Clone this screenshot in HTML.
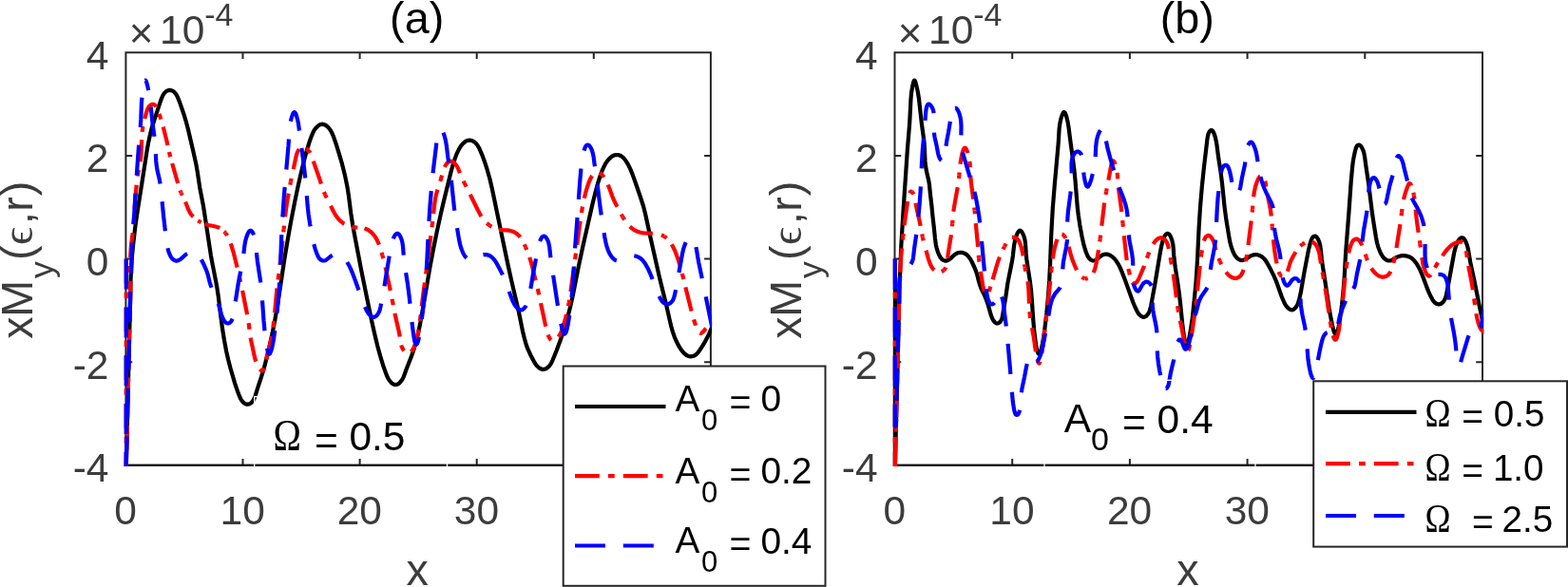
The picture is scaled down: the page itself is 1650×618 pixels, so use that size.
<!DOCTYPE html>
<html lang="en"><head><meta charset="utf-8"><title>Figure</title>
<style>html,body{margin:0;padding:0;background:#fff;}body{width:1650px;height:618px;overflow:hidden;}svg{display:block;}text{font-family:'Liberation Sans','DejaVu Sans',sans-serif;}.sym{font-family:'Liberation Serif','DejaVu Serif',serif;}</style></head><body>
<svg width="1650" height="618" viewBox="0 0 1650 618">
<rect width="1650" height="618" fill="#fff"/>
<defs>
<clipPath id="clipa"><rect x="130.00" y="55.30" width="619.10" height="435.60"/></clipPath>
<clipPath id="clipb"><rect x="939.10" y="55.30" width="622.10" height="435.60"/></clipPath>
</defs>
<g stroke="#262626" stroke-width="2" fill="none">
<rect x="132.40" y="55.30" width="615.50" height="434.50"/>
<path d="M255.50 489.80V483.00 M255.50 55.30V62.10 M378.60 489.80V483.00 M378.60 55.30V62.10 M501.70 489.80V483.00 M501.70 55.30V62.10 M624.80 489.80V483.00 M624.80 55.30V62.10 M132.40 381.18H139.20 M747.90 381.18H741.10 M132.40 272.55H139.20 M747.90 272.55H741.10 M132.40 163.93H139.20 M747.90 163.93H741.10"/>
<path d="M131.40 489.80H748.90" stroke="#0a0a0a"/>
</g>
<g fill="#3c3c3c" font-size="42.50">
<text x="132.10" y="551.8" text-anchor="middle">0</text>
<text x="255.20" y="551.8" text-anchor="middle">10</text>
<text x="378.30" y="551.8" text-anchor="middle">20</text>
<text x="501.40" y="551.8" text-anchor="middle">30</text>
<text x="624.50" y="551.8" text-anchor="middle">40</text>
<text x="747.60" y="551.8" text-anchor="middle">50</text>
<text x="114.50" y="507.30" text-anchor="end">-4</text>
<text x="114.50" y="398.68" text-anchor="end">-2</text>
<text x="114.50" y="290.05" text-anchor="end">0</text>
<text x="114.50" y="181.43" text-anchor="end">2</text>
<text x="114.50" y="72.80" text-anchor="end">4</text>
<text><tspan x="135.66" y="50.40" font-size="44.00">×</tspan><tspan x="168.03" y="46.40" font-size="42.50">10</tspan><tspan x="215.14" y="27.30" font-size="34.00">-4</tspan></text>
<text x="439.25" y="615.9" text-anchor="middle" font-size="46.75">x</text>
<text transform="translate(34.35 356.20) rotate(-90)"><tspan x="-0.47" y="0.00" font-size="46.75">x</tspan><tspan x="22.46" y="0.00" font-size="46.75">M</tspan><tspan x="63.30" y="22.00" font-size="35.50">y</tspan><tspan x="82.19" y="0.00" font-size="46.75">(</tspan><tspan x="98.20" y="0.00" font-size="46.75" class="sym">ϵ</tspan><tspan x="120.26" y="0.00" font-size="46.75">,</tspan><tspan x="133.50" y="0.00" font-size="46.75">r</tspan><tspan x="150.00" y="0.00" font-size="46.75">)</tspan></text>
</g>
<text x="438.65" y="35" text-anchor="middle" font-size="46.75" fill="#000">(a)</text>
<g clip-path="url(#clipa)" fill="none" stroke-width="4.2" stroke-linejoin="round">
<path stroke="#000" d="M132.1,520 137.6,293.1 137.9,284.1 138.4,276.1 139,269.1 140.1,257.7 142.3,238.8 144.8,221.5 149.4,192.3 154.7,158.2 156.1,150.4 157.7,143 159.2,136.7 161,130.5 165.6,116.7 168.2,108.6 169.9,103.8 171.4,100.5 172.1,99.2 173,98 173.7,97.3 174.8,96.3 176.1,95.5 177,95.2 178.4,94.9 179.3,94.9 180.7,95.3 182,95.9 183.2,96.8 184.2,97.9 185.2,99.1 186.2,100.8 187.5,103.7 189,107.4 193.1,119.2 195.6,127.3 197.8,135.6 203.5,159.9 206.4,173.1 207.7,180.5 210.3,197.8 213.9,216.4 216.5,233.2 221.9,268.8 223.4,277.2 227.4,297.3 228.6,304.2 229.7,311.6 232.2,332 234.1,346.4 236,358.2 238.2,370 240.2,378.8 242.6,388 247.1,403.3 250.3,412.8 252.2,417.7 253.3,420 254.1,421.3 255,422.5 256,423.6 257.2,424.6 258.4,425.3 259.7,425.7 260.6,425.7 262,425.5 263.2,424.9 264.4,424 265.4,423 266.3,421.8 267.3,420.1 268.5,417.2 271.1,408.7 275,396.9 278.4,385.4 281.1,374.7 283.8,363.5 286.5,351.3 289.2,337.6 292.5,318.4 299.4,272.4 303.2,249.7 306.3,232.5 310.2,212.3 313.7,195.6 316.6,182.9 320,168.9 322.8,158.4 325.8,148.8 328.3,142.1 329.3,139.7 330.2,137.9 331.3,136.2 332.6,134.6 334,133.1 335.6,131.9 336.9,131.2 338.2,130.8 339.6,130.7 340.9,131 342.2,131.6 343.5,132.4 345.1,133.8 346.5,135.4 347.7,137.1 349,139.3 350.8,143.4 353.5,151.1 356.6,161.1 359.7,171.6 363,184.7 364.1,190.1 365.5,197 366.9,205.9 369.3,224.7 371.2,237.1 373,246.9 380.5,286.2 385.9,312.7 391.4,339.1 394.6,353.3 397.2,364 400.1,374.6 403.4,385.5 406.5,394.1 408.1,397.9 409.7,400.5 410.7,401.7 411.7,402.8 412.9,403.8 413.7,404.3 415,404.9 416.3,405 417.2,404.9 418.5,404.5 420.1,403.4 421.2,402.3 422.5,400.6 423.4,399.4 424.6,397.1 425.3,395.2 428.1,387.6 433,375.1 435.7,367 437.4,361.3 439.3,354 440.6,348.2 442.1,340.8 444.4,328.4 452.5,281 456.2,261.4 459.7,244.2 463.4,227.1 466.3,214.5 470.1,198.9 474.4,181.4 476.7,173.2 478.7,167.1 480.4,162.4 482.8,157.4 484.1,155.2 485.2,153.5 486.5,151.9 487.5,150.8 488.7,149.8 489.9,148.9 491.3,148.2 492.7,147.8 494.1,147.6 495,147.7 496.4,148 497.8,148.6 499.1,149.3 500.2,150.3 501.3,151.4 502.5,153 504.5,156.6 507.1,162.6 509.6,169.2 512.4,177.7 515.4,188.3 518,199.5 534.6,279.3 538.2,295.4 545.7,327.5 550,348.7 551.8,356 553.1,360.8 554.5,365.1 556.2,369.2 558.5,374.2 561.6,380 563.4,383.1 565.3,385.5 567.2,387.2 568.4,388 569.8,388.6 571.1,388.9 572.5,388.8 574.4,388.2 575.6,387.5 577.2,386.2 578.2,385.1 579.9,382.6 581.5,379.3 585.5,369.5 589.3,359.2 592.4,350.3 595.5,340.2 597.6,333 600.3,322.3 602.7,311.6 608.7,281.1 613.3,259.6 623.6,214.3 626.7,201.7 629.4,192 631.5,185.4 633.4,180.2 635.7,175.2 637.6,171.6 639,169.6 640.3,168 642.5,165.8 643.6,164.9 644.9,164.1 646.3,163.5 647.2,163.2 649.2,163 650.6,163.1 652.5,163.7 653.8,164.4 655.4,165.6 656.8,167 658.4,169 659.5,170.8 661,173.4 662.6,176.5 664,179.7 665.5,183.4 667.9,190 674.1,208 677,217 679.1,225.2 684.4,249.7 694.3,293.6 701.3,321.7 704.8,337.4 706.2,343.3 708,349.6 709.8,354.8 712,359.8 714.5,364.7 716.7,368.1 719,370.9 720.8,372.7 721.9,373.6 723.2,374.4 724.1,374.8 725.5,375.2 727,375.3 727.9,375.2 729.8,374.8 731.1,374.1 732,373.6 733.8,372 735.7,369.6 739.6,363.6 741.9,359.7 744,355.8 746.2,351.3 751.8,338.4"/>
<path stroke="#f00" stroke-dasharray="25.79 9.20 6.70 9.10" stroke-dashoffset="0.00" d="M132.8,272.6 132.7,525.7 132.1,519.5 136.2,351.6 137.2,314.6 137.3,303.1 137,282 137,276 137.2,269.5 137.6,263 137.9,259.1 139.6,245.7 140.4,238.2 142.4,208.8 143.9,192.3 144.9,184.4 147.7,170.2"/>
<path stroke="#f00" stroke-dasharray="23.12 8.25 6.00 8.16" stroke-dashoffset="0.00" d="M147.7,170.2 148.1,166.7 148.5,162.2 149.3,142.7 149.8,137.7 150.3,133.8 151.5,127.9 153.6,120.1 155,115.5 155.7,114 156.4,112.7 157.3,111.6 158.3,110.7 159.4,110 160.6,109.8 161.7,109.9 162.4,110.3 163.1,110.8 164,111.8 165.3,114.1 166.6,117.3 169.5,126 171.7,133.5"/>
<path stroke="#f00" stroke-dasharray="20.13 7.18 5.23 7.10" stroke-dashoffset="0.00" d="M171.7,133.5 175.4,148.2 178.3,161.4 181.2,172"/>
<path stroke="#f00" stroke-dasharray="21.87 7.80 5.68 7.71" stroke-dashoffset="0.00" d="M181.2,172 187.9,195.6 189.1,199.4 190.5,203.1"/>
<path stroke="#f00" stroke-dasharray="21.75 7.75 5.65 7.67" stroke-dashoffset="32.32" d="M190.5,203.1 195.1,212.5"/>
<path stroke="#f00" stroke-dasharray="17.85 6.37 4.64 6.30" stroke-dashoffset="0.00" d="M195.1,212.5 198.6,221.4 199.8,223.7 200.8,225.3 202.8,227.6 205.3,229.9 207.7,231.8 210.2,233.4"/>
<path stroke="#f00" stroke-dasharray="12.43 4.43 3.23 4.38" stroke-dashoffset="18.47" d="M210.2,233.4 213.4,235 215.7,235.9"/>
<path stroke="#f00" stroke-dasharray="16.18 5.77 4.20 5.71" stroke-dashoffset="0.00" d="M215.7,235.9 219.5,237 226.9,238.5 229.8,239.4 232,240.6 234,242 235.9,243.7 237.2,245.2"/>
<path stroke="#f00" stroke-dasharray="26.06 9.29 6.77 9.19" stroke-dashoffset="38.74" d="M237.2,245.2 238.7,247.3 240.2,249.9 241.6,253.1 242.8,256.4"/>
<path stroke="#f00" stroke-dasharray="25.92 9.24 6.73 9.14" stroke-dashoffset="0.00" d="M242.8,256.4 245.5,265.1 248.3,276.2 251.8,290.8 255.1,305.9"/>
<path stroke="#f00" stroke-dasharray="25.63 9.14 6.65 9.04" stroke-dashoffset="0.00" d="M255.1,305.9 259.3,327 260.8,334.9 261.9,341.8 263.3,353.2 264.1,358.1 268.5,378.2 269.2,380.6 270.4,383.5 271.7,386 272.9,387.8 274.2,389.3 274.8,389.8 275.4,390.1 276.3,390.2 276.8,389.9 277.2,389.4 277.8,388.3 278.6,385.9 280.9,375.2 284.5,361.1 285.9,354.7 287,348.1 288.4,336.2 291.2,306.1 295.6,270.4 296.8,259.5 298.6,241.1"/>
<path stroke="#f00" stroke-dasharray="26.92 9.60 6.99 9.50" stroke-dashoffset="40.02" d="M298.6,241.1 300,228.2"/>
<path stroke="#f00" stroke-dasharray="24.98 8.91 6.49 8.81" stroke-dashoffset="0.00" d="M300,228.2 301.1,219.2 302.4,210.7 304.1,201.3 305.9,191.5"/>
<path stroke="#f00" stroke-dasharray="28.46 10.15 7.39 10.04" stroke-dashoffset="42.30" d="M305.9,191.5 308.7,178.1"/>
<path stroke="#f00" stroke-dasharray="21.94 7.82 5.70 7.74" stroke-dashoffset="0.00" d="M308.7,178.1 311.9,163.3 312.9,160.4 313.5,159.1 314.3,157.9 315.3,156.9 316.4,156.1 317.6,155.7 318.5,155.6 319.9,155.8 321.3,156.3 322.7,157 324.3,158.3"/>
<path stroke="#f00" stroke-dasharray="26.53 9.46 6.89 9.36" stroke-dashoffset="39.43" d="M324.3,158.3 326,160.2 327.3,162.4 328.6,165.7 329.8,169.7"/>
<path stroke="#f00" stroke-dasharray="25.24 9.00 6.56 8.90" stroke-dashoffset="0.00" d="M329.8,169.7 331.4,174.5 335.9,187.2 339.5,198.6 340.8,201.9 342.2,205.1"/>
<path stroke="#f00" stroke-dasharray="26.96 9.61 7.00 9.51" stroke-dashoffset="40.08" d="M342.2,205.1 348,216.7"/>
<path stroke="#f00" stroke-dasharray="24.28 8.66 6.31 8.56" stroke-dashoffset="0.00" d="M348,216.7 351.1,223 353.7,227.3 356.1,230.5 358.6,233 360.1,234.2 361.8,235.4 365.4,237.2 369.1,238.5 371.1,239 373.6,239.4"/>
<path stroke="#f00" stroke-dasharray="20.75 7.40 5.39 7.32" stroke-dashoffset="30.84" d="M373.6,239.4 380.1,239.7 382.1,240 383.5,240.4"/>
<path stroke="#f00" stroke-dasharray="23.97 8.55 6.22 8.45" stroke-dashoffset="0.00" d="M383.5,240.4 386.3,241.5 387.6,242.2 389.2,243.4 390.4,244.3 392.2,246.1 393.2,247.2 394.7,249.2 396.5,252.2 398.4,256.3 400.1,261.1 402.4,268.8"/>
<path stroke="#f00" stroke-dasharray="26.91 9.60 6.99 9.49" stroke-dashoffset="40.01" d="M402.4,268.8 404,274.5 405.6,281.4"/>
<path stroke="#f00" stroke-dasharray="25.15 8.97 6.53 8.87" stroke-dashoffset="0.00" d="M405.6,281.4 412,311.7 415.4,329.9"/>
<path stroke="#f00" stroke-dasharray="25.24 9.00 6.55 8.90" stroke-dashoffset="0.00" d="M415.4,329.9 419.7,348.7 420.5,352.8 421.5,360 422,362.5 422.7,365 424,367.7 425.1,369.4 426.2,370.5 427,371.1 427.8,371.6 428.6,371.9 429.4,372 430.2,371.9 431,371.5 431.7,371.1 433.1,369.7 434.7,367.5 436.1,364.7 437.4,361.3 438.8,355.9 440,350 441.4,341.6 442.6,332.7 444.9,312.9 448.7,284.6 454.9,236"/>
<path stroke="#f00" stroke-dasharray="22.84 8.14 5.93 8.06" stroke-dashoffset="33.95" d="M454.9,236 456.1,225.1"/>
<path stroke="#f00" stroke-dasharray="25.82 9.21 6.70 9.11" stroke-dashoffset="0.00" d="M456.1,225.1 457.5,213.1 458.2,208.7 459,204.8 460.2,200.4 463.4,190.4 466.4,179.8 467.2,177.4 468.3,175 469.4,173.2 470.3,172 471.3,171 472.5,170.2 473.8,169.8 475.1,169.8 475.9,170.1 476.7,170.5 478.3,171.7 479.9,173.7 481.3,175.9 482.4,178.2 485.1,185.3 486.6,188.5 490.9,197 502.9,221.2 505.9,226.9 508.1,230.3 510,232.6 512.1,234.8 514.8,237"/>
<path stroke="#f00" stroke-dasharray="23.89 8.52 6.20 8.43" stroke-dashoffset="35.51" d="M514.8,237 517.3,238.7 519.9,240.2 522.7,241.3 525.1,241.9"/>
<path stroke="#f00" stroke-dasharray="24.63 8.78 6.40 8.69" stroke-dashoffset="0.00" d="M525.1,241.9 528.1,242.2 533.6,242.4 536.1,242.7 538.1,243.2 540,243.8 541.7,244.7 543,245.5 544.6,246.7 545.7,247.7 547,249.2 548.5,251.3 550.6,254.7 551.7,256.9 553.1,260.2"/>
<path stroke="#f00" stroke-dasharray="23.87 8.51 6.20 8.42" stroke-dashoffset="35.49" d="M553.1,260.2 555.3,265.8 557.2,270.9"/>
<path stroke="#f00" stroke-dasharray="25.21 8.99 6.55 8.89" stroke-dashoffset="0.00" d="M557.2,270.9 558.3,274.3 559.8,279.6 566.1,305.3 574.2,343.4 575.9,349.9 577.4,354.2 578.4,356.1 579.2,357.2 580.2,358 580.9,358.3 582,358.3 583.3,358 584.1,357.6 585.4,356.7 587.3,354.9 588.9,352.8 590.3,350.1 592,345.8 593.6,340.4 595.1,335.1 596.6,328.8 598.7,318.6 600.5,306.7 610.9,230.9 612.8,218.5 614.6,209.3 616.7,201.1 618.1,196.7 619.5,192.4 620.7,189.5 621.8,187.2 622.9,185.5 624.5,183.6 626.1,182.5 627,182.1 627.9,181.8 628.8,181.7 629.8,181.8 630.6,182 631.5,182.4 633,183.5 634.4,185 636.7,188.5 638.9,192.6 640.5,196.3 644.3,206.6 646,210.7 649.4,217.4 655.3,228.5"/>
<path stroke="#f00" stroke-dasharray="25.99 9.27 6.75 9.17" stroke-dashoffset="38.63" d="M655.3,228.5 656.9,231 658.8,233.9 660.4,235.9 662.8,238.5"/>
<path stroke="#f00" stroke-dasharray="25.97 9.26 6.74 9.16" stroke-dashoffset="0.00" d="M662.8,238.5 665.4,240.8 667.5,242.2 670.2,243.5 673,244.5 675.5,245.1 677.9,245.4 687.5,245.8 691.5,246.2 693.5,246.7 695.4,247.2 697.2,248 699,248.9"/>
<path stroke="#f00" stroke-dasharray="23.88 8.52 6.20 8.42" stroke-dashoffset="35.50" d="M699,248.9 701,250.4 703.2,252.4 705.2,254.7 706.8,257.2"/>
<path stroke="#f00" stroke-dasharray="24.16 8.62 6.27 8.52" stroke-dashoffset="0.00" d="M706.8,257.2 708.7,260.8 710.4,264.4 712.3,269.6 713.8,273.9 715.7,280.1 717.2,285.4 721.4,302.4"/>
<path stroke="#f00" stroke-dasharray="25.80 9.20 6.70 9.10" stroke-dashoffset="0.00" d="M721.4,302.4 727.3,326.2 729.5,334.6 730.9,339 732.3,343.3 734,347.6 735,349.3 735.8,350.2 736.7,350.7 737.6,350.8 738.6,350.3 740,349.2 742.9,345.6"/>
<path stroke="#00f" stroke-dasharray="32.00 18.80" stroke-dashoffset="0.00" d="M132.8,272.6 132.7,508.9 132.3,508.5 136.5,339.1"/>
<path stroke="#00f" stroke-dasharray="32.13 18.87" stroke-dashoffset="0.00" d="M136.5,339.1 137.1,311.1 138.1,288.1"/>
<path stroke="#00f" stroke-dasharray="32.76 19.24" stroke-dashoffset="0.00" d="M138.1,288.1 139.2,260.1 140.5,236.1"/>
<path stroke="#00f" stroke-dasharray="32.45 19.06" stroke-dashoffset="0.00" d="M140.5,236.1 143.8,184.7"/>
<path stroke="#00f" stroke-dasharray="32.18 18.91" stroke-dashoffset="0.00" d="M143.8,184.7 145.8,156.3 147.7,133.8"/>
<path stroke="#00f" stroke-dasharray="31.14 18.30" stroke-dashoffset="0.00" d="M147.7,133.8 148.3,125.4 148.9,108.8 149.6,100.8 150.1,96.1 151.1,90.7 152,86.5 152.4,85.3 152.7,84.8"/>
<path stroke="#00f" stroke-dasharray="11.53 6.77" stroke-dashoffset="0.00" d="M152.7,84.8 153,84.6 153.3,84.8 153.6,85.2 154.1,86.3 155.1,89.9 156.2,95.1"/>
<path stroke="#00f" stroke-dasharray="29.88 17.55" stroke-dashoffset="29.88" d="M156.2,95.1 157.6,103.1 158.7,112.5"/>
<path stroke="#00f" stroke-dasharray="31.51 18.51" stroke-dashoffset="0.00" d="M158.7,112.5 160.7,131.4 163.2,148.7 163.7,155.7 163.9,162.2"/>
<path stroke="#00f" stroke-dasharray="31.81 18.69" stroke-dashoffset="0.00" d="M163.9,162.2 164.2,169.2 164.9,175.7 165.8,180.6 167.8,188.9 168.4,192.3 170.6,212.2"/>
<path stroke="#00f" stroke-dasharray="31.16 18.31" stroke-dashoffset="0.00" d="M170.6,212.2 172.1,227.6 173.6,240.5 174.6,251 175.3,255.9 176,259.8 177.2,264.2 178.5,267.7 179.4,269.6 180.1,270.9 181.7,272.8 183.2,273.9 184.1,274.3 184.9,274.6 185.8,274.6 186.7,274.5 188.1,274 189.8,273 191.4,271.7 194.8,268.5 196.8,267.1 198.2,266.4 199.6,266 201.1,265.8 202.1,265.8 203.5,266 204.9,266.5 206.3,267.1 207.5,267.9 208.7,268.9 210,270.4 211.9,273.3"/>
<path stroke="#00f" stroke-dasharray="31.37 18.43" stroke-dashoffset="0.00" d="M211.9,273.3 215.1,279.8 217.5,285.3 218.7,289.1 220.7,297.3 221.8,300.7 223.3,304.4 226.7,311.6 228.2,315.3 230.2,320.9 232.9,330.8 233.7,333.3 234.7,335.6 235.4,336.9 236.3,338.2 237,338.9 238,339.9 238.8,340.3 240,340.5 240.8,340.3 241.9,339.7 242.9,338.8 243.7,337.6 244.7,335.4 245.3,332.8 247.8,317.4"/>
<path stroke="#00f" stroke-dasharray="32.20 18.92" stroke-dashoffset="0.00" d="M247.8,317.4 250.9,297.4 254.4,279.7 255.7,272.3 256.3,267.9 257.2,260 257.7,256.5 258.2,254 258.9,251 260.4,246.8 261.3,244.9 262,243.7 262.8,242.9 263.4,242.7 264,242.8 264.8,243.4 265.6,244.4 266.4,245.8 267.8,249.1 268.4,251.1 268.9,253.6 269.4,257.7 269.9,265.9"/>
<path stroke="#00f" stroke-dasharray="32.01 18.81" stroke-dashoffset="0.00" d="M269.9,265.9 270.9,275.1 274.2,296.7 275.1,304.7 275.7,311.7 277.5,337.4 278.6,349 279.4,356.8 280.2,362.6 281.2,367.7 281.7,369.7 282.2,371.2 282.6,372.1 283.1,372.5 283.4,372.6 283.8,372.4 284.2,372 284.6,371.1 285.5,368.8 286.3,365.9 287.9,357.7 289.7,344.8 291.6,328.9 293.1,312.8 294.2,297.2 295.1,278.6"/>
<path stroke="#00f" stroke-dasharray="31.60 18.57" stroke-dashoffset="0.00" d="M295.1,278.6 296.1,251.1 297.3,229 298.8,207.3 301.3,178.5"/>
<path stroke="#00f" stroke-dasharray="32.11 18.86" stroke-dashoffset="0.00" d="M301.3,178.5 303.5,153.4 304.6,136 305.1,132 305.8,127.8"/>
<path stroke="#00f" stroke-dasharray="31.37 18.43" stroke-dashoffset="0.00" d="M305.8,127.8 306.5,125 307.4,122.1 308.1,120.1 308.9,118.6 309.6,118.1 310.2,118.2 310.8,119 311.4,120.1 312.1,122.2 312.7,124.5 313.4,127.2 314.1,130.9 317.4,155.9"/>
<path stroke="#00f" stroke-dasharray="31.84 18.70" stroke-dashoffset="0.00" d="M317.4,155.9 319.3,170.4 320.7,182.3 321.6,191.2 322.8,206.2"/>
<path stroke="#00f" stroke-dasharray="32.47 19.07" stroke-dashoffset="0.00" d="M322.8,206.2 323.6,216.1 324.7,226.1 326.2,236.1 328.3,248.2 329.8,255.4 331.6,261.8 333.5,267.4 334.2,268.9 335.1,270.8 336.3,272.4 337.7,273.6 339.3,274.4 340.1,274.5 341,274.5 342.3,274.2 343.5,273.5 348,269.8 350.2,268.5 351.6,267.9 353,267.6 354,267.6 355.4,267.8 356.8,268.2 358.1,268.9 359.4,269.7 360.7,270.6 362.9,272.8 363.8,274 365.3,276"/>
<path stroke="#00f" stroke-dasharray="31.97 18.78" stroke-dashoffset="0.00" d="M365.3,276 366.6,278.2 368,280.9 369.5,284.1 371,287.8 374,295.7 381.5,316.9 384.1,323.4 385.9,327.2 387.3,329.5 388.2,330.7 389.2,331.8 390.7,333 392,333.6 392.8,333.8 393.6,333.8 394.9,333.4 396,332.6 397,331.5 398.1,329.9 398.8,328.6 399.7,326.2 400.5,322.6 404.5,301.2"/>
<path stroke="#00f" stroke-dasharray="32.00 18.80" stroke-dashoffset="0.00" d="M404.5,301.2 409.8,268.9 411.1,262 412.1,257.3 413.1,253.5 414.3,250 415,248.7 415.7,247.5 416.6,246.6 417.2,246.1 418.2,245.8 418.8,245.9 419.7,246.6 420.2,247.2 421,248.5 421.9,250.4 422.6,252.3 423.3,254.8 423.8,257.8 424.1,260.4 424.7,268.6 425.4,275.2 427.1,287.1"/>
<path stroke="#00f" stroke-dasharray="32.93 19.35" stroke-dashoffset="0.00" d="M427.1,287.1 429.1,299.9 430.6,311.7 433.7,340.8 435.1,352.3 435.9,357 436.6,360.4 437.4,362.3 437.7,362.6 438.1,362.7 438.7,362.2 439.4,360.8 440,359.1 440.7,356.1 441.9,349.8 443.4,339.6 445.1,325.8 446.5,312.4 447.9,297 448.8,283.8"/>
<path stroke="#00f" stroke-dasharray="32.05 18.83" stroke-dashoffset="0.00" d="M448.8,283.8 449.5,271.2 450.8,243.8 451.6,229.7 452.5,216.5 454,198.1 455.9,179.3 458.6,157 459.8,146.1 460.2,143.3 460.7,141.3 461.4,139.5 462,138.4 463.1,137.3 464,137 464.3,137 464.8,137.2 465.6,138.1 466.5,139.8 467.6,142.9 468.5,146 469.1,149 469.8,153 471.4,165.8 474.5,186.1 475.4,194.6 477.9,218.4 479.1,228.4 481,240.2"/>
<path stroke="#00f" stroke-dasharray="33.47 19.67" stroke-dashoffset="0.00" d="M481,240.2 483.1,252.5 483.9,256.4 484.8,259.8 486,263.2 487.6,267 489.2,269.7 490.5,271.2 491.9,272.6 493.6,273.5 495,274 495.9,274.1 496.8,274.1 498.1,273.7 499.4,273.1 503.8,270.3 505.6,269.2 507.1,268.7 508.5,268.2"/>
<path stroke="#00f" stroke-dasharray="31.80 18.68" stroke-dashoffset="0.00" d="M508.5,268.2 509.9,268 511.4,268.1 512.9,268.3 514.7,269 516.1,269.6 517.6,270.8 519.1,272.2 520.6,274.1 522.3,276.7 524.8,281.3 528.1,287.6 530,291.6 532.6,297.9 535.7,306.9"/>
<path stroke="#00f" stroke-dasharray="31.57 18.54" stroke-dashoffset="0.00" d="M535.7,306.9 537.6,312.1 539.5,316.9 540.6,319.2 541.9,321.4 542.8,322.7 543.8,323.8 545.3,325.2 547,326.1 547.8,326.3 548.7,326.3 549.5,326.1 550.2,325.7 551.7,324.4 553.2,322.5 554.4,320.2 555.3,317.8 556.4,313.7 557.4,309.2 558.4,303.8"/>
<path stroke="#00f" stroke-dasharray="31.95 18.77" stroke-dashoffset="0.00" d="M558.4,303.8 561.1,287.6 564.9,267.7 566.3,260.8 567.7,255.4 568.6,252.8 569.7,250.5 570.2,249.8 571.1,249 572.1,248.6 572.8,248.7 573.5,248.9 574.4,249.8 575.2,250.9 576.2,252.8 576.8,254.2 577.4,256.1 578.2,260.1 579.8,274.9 582.1,289.7"/>
<path stroke="#00f" stroke-dasharray="32.53 19.11" stroke-dashoffset="0.00" d="M582.1,289.7 587.9,328.1 590,339.5 591.5,346.3 592.3,349 592.9,350.3 593.4,351.2 593.8,351.5 594.1,351.6 594.6,351.3 595.3,350.4 596.1,348.4 596.7,346.2 598,339.8 599.5,330 601,318.4 602.4,304.2 603.4,290.3 604.5,269.5 605.2,259.7 607.9,224.2 610.1,192.8 611.3,178.7 612.5,169.6 613.1,165.6 614.2,160.2 615,157.4 615.6,155.4 616.3,154.1 617,153.1 617.9,152.6 618.9,152.6 619.9,153.1 620.8,154.1 621.6,155.4 622.5,157.2 623.2,159.1 624,162.1 624.7,165.7 626,175.9 628.4,192.1 631.5,217.4 632.6,225.4 635.6,245.1"/>
<path stroke="#00f" stroke-dasharray="33.43 19.64" stroke-dashoffset="0.00" d="M635.6,245.1 636.4,250.1 637.5,255.4 638.5,259.3 639.6,262.7 641,266 642.5,268.7 644.3,271.2 646.1,272.9 647.3,273.7 648.6,274.2 650,274.5 650.9,274.5 651.7,274.3 653,273.8 657.5,271.1 658.9,270.4 660.3,269.9 662.3,269.4 663.8,269.2 665.3,269.1 667.3,269.3"/>
<path stroke="#00f" stroke-dasharray="32.91 19.33" stroke-dashoffset="0.00" d="M667.3,269.3 669.3,269.7 671.2,270.4 672.9,271.3 674.1,272.1 675.6,273.4 677,274.9 678.2,276.5 679.6,278.7 681.8,282.7 683.9,287.3 686,292.4 690.6,304.9 692.1,308.6 693.7,311.9"/>
<path stroke="#00f" stroke-dasharray="31.49 18.50" stroke-dashoffset="0.00" d="M693.7,311.9 695.1,314.8 696.6,317 698.3,318.8 699.9,319.8 701.7,320.3 702.6,320.3 703.5,320.1 704.3,319.8 705.1,319.3 706.2,318.4 706.9,317.6 707.8,316.4 708.5,315.1 709.2,313.2 709.8,311.2 711.3,304.1 714.4,287"/>
<path stroke="#00f" stroke-dasharray="32.79 19.26" stroke-dashoffset="0.00" d="M714.4,287 718.1,266.8 719.1,262.4 720,259.5 721.1,256.5 722.3,254 723.1,252.6 724.4,251.2 725,250.7 725.8,250.4 726.5,250.3 727.2,250.4 728.2,251 729.4,252.5 730.6,254.8 731.5,257.3 732.4,260.2"/>
<path stroke="#00f" stroke-dasharray="33.48 19.67" stroke-dashoffset="0.00" d="M732.4,260.2 733.2,264.2 734.3,271.2 735.4,277.1 739,294.2 742.7,312.4"/>
<path stroke="#00f" stroke-dasharray="32.00 18.80" stroke-dashoffset="0.00" d="M742.7,312.4 750.8,351.6"/>
</g>
<g stroke="#262626" stroke-width="2" fill="none">
<rect x="941.50" y="55.30" width="618.50" height="434.50"/>
<path d="M1065.20 489.80V483.00 M1065.20 55.30V62.10 M1188.90 489.80V483.00 M1188.90 55.30V62.10 M1312.60 489.80V483.00 M1312.60 55.30V62.10 M1436.30 489.80V483.00 M1436.30 55.30V62.10 M941.50 381.18H948.30 M1560.00 381.18H1553.20 M941.50 272.55H948.30 M1560.00 272.55H1553.20 M941.50 163.93H948.30 M1560.00 163.93H1553.20"/>
<path d="M940.50 489.80H1561.00" stroke="#0a0a0a"/>
</g>
<g fill="#3c3c3c" font-size="42.50">
<text x="941.20" y="551.8" text-anchor="middle">0</text>
<text x="1064.90" y="551.8" text-anchor="middle">10</text>
<text x="1188.60" y="551.8" text-anchor="middle">20</text>
<text x="1312.30" y="551.8" text-anchor="middle">30</text>
<text x="1436.00" y="551.8" text-anchor="middle">40</text>
<text x="1559.70" y="551.8" text-anchor="middle">50</text>
<text x="923.60" y="507.30" text-anchor="end">-4</text>
<text x="923.60" y="398.68" text-anchor="end">-2</text>
<text x="923.60" y="290.05" text-anchor="end">0</text>
<text x="923.60" y="181.43" text-anchor="end">2</text>
<text x="923.60" y="72.80" text-anchor="end">4</text>
<text><tspan x="944.76" y="50.40" font-size="44.00">×</tspan><tspan x="977.12" y="46.40" font-size="42.50">10</tspan><tspan x="1024.24" y="27.30" font-size="34.00">-4</tspan></text>
<text x="1249.85" y="615.9" text-anchor="middle" font-size="46.75">x</text>
<text transform="translate(843.45 356.20) rotate(-90)"><tspan x="-0.47" y="0.00" font-size="46.75">x</tspan><tspan x="22.46" y="0.00" font-size="46.75">M</tspan><tspan x="63.30" y="22.00" font-size="35.50">y</tspan><tspan x="82.19" y="0.00" font-size="46.75">(</tspan><tspan x="98.20" y="0.00" font-size="46.75" class="sym">ϵ</tspan><tspan x="120.26" y="0.00" font-size="46.75">,</tspan><tspan x="133.50" y="0.00" font-size="46.75">r</tspan><tspan x="150.00" y="0.00" font-size="46.75">)</tspan></text>
</g>
<text x="1249.25" y="35" text-anchor="middle" font-size="46.75" fill="#000">(b)</text>
<g clip-path="url(#clipb)" fill="none" stroke-width="4.2" stroke-linejoin="round">
<path stroke="#000" d="M941.9,272.6 941.8,520 941.1,520 945.3,354.6 946.1,313.6 948.3,259.1 950.4,224.2 953.9,171.8 954.8,158.3 957.2,129.3 958.4,105.4 959,98.2 960.1,91.3 961.2,86.5 961.8,85 962.2,84.6 962.7,84.9 963.3,86.3 964.4,90.4 965.9,97.1 967,104.1 967.7,110.5 969.9,130.4 972.4,148.7 972.9,155.7 973.5,169.7 974.1,175.2 975,180.6 977.3,190.3 977.9,193.8 979.1,205.7 980.5,217.6 981.4,227.1 982.7,238.5 983.9,250.4 984.4,254.4 984.9,257.9 985.7,261.3 986.7,264.7 988,268.1 989.5,270.9 991,272.8 992.1,273.7 993,274.1 993.8,274.4 994.7,274.6 995.6,274.6 996.5,274.4 998.3,273.6 1000.3,272.1 1003.7,268.9 1005.3,267.6 1007.1,266.6 1008.9,266 1010.4,265.8 1011.9,265.8 1012.8,266 1014.2,266.4 1015.6,267.1 1016.9,267.9 1018,268.8 1019,269.9 1020.8,272.3 1022.6,275.5 1025.2,281 1026.9,285.1 1028.3,289.4 1030.1,296.7 1031.1,300 1032.5,303.8 1036.2,311.4 1037.9,315.6 1040.1,322.1 1042.9,332.1 1044,335 1045.5,337.6 1046.1,338.4 1047.1,339.5 1047.9,340 1048.6,340.4 1049.4,340.5 1050.2,340.4 1051,340.1 1051.7,339.6 1052.7,338.6 1053.2,337.8 1054.3,335.6 1054.9,333 1058.3,312.8 1060.4,298.1 1065,275 1065.9,269.1 1067.1,258.3 1068.2,252.7 1069.6,248.1 1070.6,245.6 1071.4,244.2 1072.2,243.2 1073,242.7 1073.6,242.7 1074.4,243.2 1075,243.8 1075.8,245.1 1077.1,247.9 1078.1,250.8 1078.8,254.3 1079.2,258.9 1079.7,266.7 1080.3,272.8 1081.4,280.4 1083.8,295.5 1084.9,304.4 1085.6,312.4 1087.3,337.1 1088.1,346.7 1089.1,355.3 1090,362.3 1091,367.5 1091.5,369.5 1092.1,371.3 1092.5,372.1 1093,372.5 1093.4,372.5 1094,372.1 1094.8,370.4 1095.8,367.3 1096.9,362.1 1098.2,354.6 1099.2,347.7 1101.3,330 1103,311.9 1104.2,295.4 1105,279.4 1106.2,247.9 1106.9,234.9 1107.8,219.1 1109.9,193.2 1113.1,157.7 1113.8,149.3 1114.6,135.8 1115.4,129.7 1116.1,126.4 1116.8,123.6 1117.8,120.8 1118.6,119.1 1119.2,118.3 1119.8,118.1 1120.5,118.5 1121,119.5 1121.6,120.8 1122.3,123 1123.6,128.5 1124.6,134.6 1126,145.7 1129.1,168.6 1130.4,179 1131.5,189.9 1133.3,212.3 1133.8,218.3 1134.8,226.8 1136.3,236.8 1138.4,248.4 1140.3,257.1 1141.7,262 1142.7,265 1143.7,267.6 1144.8,270 1146.2,272.1 1147.2,273.1 1147.9,273.7 1149.5,274.4 1150.4,274.5 1151.3,274.5 1152.1,274.3 1153.3,273.7 1154.9,272.5 1157.8,270.1 1160,268.6 1161.4,268.1 1162.4,267.8 1163.3,267.6 1164.7,267.6 1166.6,268.1 1168.8,269.1 1170.9,270.7 1172.8,272.5 1174.7,274.8 1176.6,277.8 1178.2,280.9 1180.1,285 1183.4,293.4 1192.3,318.3 1194.3,323 1196.3,327.2 1197.4,329.1 1198.2,330.4 1199.2,331.5 1200.3,332.5 1201.5,333.2 1202.3,333.6 1203.6,333.8 1204.4,333.7 1205.6,333.1 1206.4,332.6 1207,331.9 1208,330.7 1208.7,329.5 1209.4,328.1 1209.9,326.7 1210.5,324.7 1211.2,321.6 1215.2,299.8 1221,265.1 1222.2,259 1223.5,253.6 1224.8,250 1225.7,248.3 1226.5,247.2 1227.3,246.3 1228.3,245.8 1228.9,245.8 1229.9,246.3 1230.4,246.8 1231.3,248 1232.6,250.8 1233.5,253.7 1234.3,257.2 1234.7,260.8 1235.2,268.5 1236,275.6 1236.8,281.7 1239.2,297.1 1240.7,307.8 1241.9,317.8 1244.2,340.7 1245.3,349.6 1246.1,355.2 1246.9,359.1 1247.7,361.8 1248,362.4 1248.4,362.7 1248.8,362.7 1249.3,362.2 1249.8,361.2 1250.3,360 1251.3,356.1 1252.3,351 1253.4,344.1 1254.7,335 1256.9,314.6 1258.5,297.1 1259.4,283.9 1260.2,269.9 1261.6,240.1 1263,218.1 1264.8,196.7 1267,175.5 1269.2,157.1 1270.3,147.3 1270.9,143.4 1271.5,140.9 1272.5,138.8 1273.5,137.6 1274.1,137.2 1274.7,137 1275.2,137.1 1276,137.7 1276.7,138.8 1277.4,140.2 1278.8,144.3 1279.9,149.4 1280.5,152.9 1282.2,166.2 1284.4,180.1 1285.3,187 1286.2,194.5 1288.4,216.3 1289.2,222.8 1290.4,231.7 1293,247.5 1294.2,254.4 1295.6,259.7 1296.4,262.1 1297.5,265 1298.7,267.4 1299.4,268.7 1300.3,270 1301.2,271.1 1302.3,272.2 1303.5,273 1304.4,273.5 1305.7,273.9 1307.5,274.1 1309.3,273.6 1310.6,273 1314.5,270.4 1316.4,269.3 1318.3,268.6 1319.2,268.3 1320.7,268.1 1322.2,268.1 1323.1,268.2 1325.5,268.9 1327.7,270.1 1329.5,271.6 1331.2,273.5 1333.2,276.5 1337.6,284.6 1340.7,290.9 1343.4,297.2 1348.7,312.3 1351.1,318 1352.3,320.3 1353.4,322 1354.7,323.6 1356.2,325 1357.8,326 1359.1,326.3 1360.3,326.2 1361.5,325.6 1362.6,324.7 1363.9,323.2 1365.2,321 1366,319.1 1367.3,314.6 1368.7,308.6 1372.4,287 1376.2,267.1 1377.2,262.2 1378.5,256.9 1379.7,253.1 1380.3,251.7 1381,250.4 1381.8,249.4 1382.8,248.8 1383.8,248.6 1384.5,248.8 1385.1,249.2 1386,250.2 1387.3,252.4 1388.4,255.2 1389.2,258.2 1389.8,262.8 1390.8,272.5 1391.7,279 1394.2,294.8 1398.6,324.3 1400.1,332.8 1402,342.5 1403.3,347.8 1404.1,350.1 1404.7,351.1 1405.2,351.5 1405.8,351.5 1406.3,351 1407,349.7 1407.8,347 1408.6,344 1409.4,339.7 1410.4,333.5 1412.1,320.4 1413.6,305.8 1414.8,290.2 1415.9,269.8 1416.5,261.1 1419.5,222.5 1421.7,191.2 1423.1,175.8 1423.8,170 1424.7,164.9 1425.6,160.7 1426.6,156.8 1427.3,154.8 1428,153.6 1428.5,153.1 1429.1,152.7 1430.1,152.5 1430.8,152.7 1431.7,153.5 1432.3,154.2 1433.1,155.5 1434.4,158.2 1435.1,160.2 1435.5,162.2 1436.1,165.3 1437.4,175 1440.1,193.1 1443.9,223.9 1445.6,235.3 1447.9,249.6 1449,255.5 1450.4,260.4 1452.2,265.1 1453.3,267.4 1454.4,269.2 1455.9,271.2 1457.3,272.6 1458.6,273.5 1459.4,273.9 1461.2,274.5 1462.5,274.5 1464.3,274 1465.6,273.3 1469.6,270.9 1471.5,270.1 1473.9,269.4 1475.9,269.2 1477.4,269.2 1479,269.3 1480.4,269.6 1481.9,270 1484.2,271 1485.4,271.8 1486.6,272.7 1488.3,274.4 1490.5,277.3 1492.1,279.9 1494,283.5 1496.8,290 1501.1,301.6 1503.3,307.1 1505.7,312.3 1507.5,315.6 1508.3,316.8 1509.3,318 1510,318.7 1511.2,319.5 1512.5,320.1 1513.4,320.3 1514.3,320.3 1515.2,320.2 1516.1,319.9 1517.3,319.1 1518.4,318.1 1519.3,317 1520.1,315.7 1520.7,314.4 1521.7,311.4 1523.3,303.8 1530.2,266 1531.3,261.6 1532.2,258.7 1533.2,256.2 1534.1,254.2 1535.2,252.4 1536.2,251.3 1537.2,250.6 1538.3,250.3 1539.1,250.4 1540.1,250.9 1541.3,252.3 1542.5,254.6 1543.8,258 1544.6,261 1545.2,264 1547.2,275.9 1551.1,294 1556.6,321.4 1563,351.8"/>
<path stroke="#f00" stroke-dasharray="25.81 9.20 6.70 9.10" stroke-dashoffset="0.00" d="M941.9,272.6 941.8,508 941.5,508 945.4,349.1 946.1,315.1 946.5,301.6 947.3,286.6"/>
<path stroke="#f00" stroke-dasharray="25.24 9.00 6.55 8.90" stroke-dashoffset="0.00" d="M947.3,286.6 947.7,277.6 948.4,267.6 949.2,259.2 950.3,249.2"/>
<path stroke="#f00" stroke-dasharray="24.91 8.88 6.47 8.79" stroke-dashoffset="37.03" d="M950.3,249.2 951.6,237.2"/>
<path stroke="#f00" stroke-dasharray="25.43 9.07 6.61 8.97" stroke-dashoffset="0.00" d="M951.6,237.2 952.9,227.2 955.4,210.2 956,206.9 956.7,204.4 957.2,203.2 957.6,202.5 958.1,201.9 958.6,201.6 959.1,201.5 959.6,201.8"/>
<path stroke="#f00" stroke-dasharray="26.55 9.47 6.89 9.36" stroke-dashoffset="39.46" d="M959.6,201.8 960.1,202.2 960.7,203.3 961.7,205.4 962.6,208.9 963.5,213.8"/>
<path stroke="#f00" stroke-dasharray="24.60 8.77 6.39 8.68" stroke-dashoffset="0.00" d="M963.5,213.8 964.5,219 968.2,235.4 970.8,249.6"/>
<path stroke="#f00" stroke-dasharray="30.07 10.72 7.81 10.61" stroke-dashoffset="44.70" d="M970.8,249.6 971.8,254 974.5,263.6"/>
<path stroke="#f00" stroke-dasharray="22.82 8.14 5.92 8.05" stroke-dashoffset="0.00" d="M974.5,263.6 976.7,271.8 978.3,276.6 979.1,278.5 980,280.4 981.1,282.1 982,283.3 983.5,284.7 984.7,285.5 986.1,286.1 987.5,286.4 989,286.4 990.4,286.1 991.7,285.5 993.2,284.4"/>
<path stroke="#f00" stroke-dasharray="27.80 9.91 7.22 9.81" stroke-dashoffset="41.33" d="M993.2,284.4 993.9,283.7 994.7,282.6 995.3,281.3 995.8,279.9 996.5,276.2 997.1,271.8"/>
<path stroke="#f00" stroke-dasharray="24.87 8.87 6.46 8.77" stroke-dashoffset="0.00" d="M997.1,271.8 998,265 1001,247 1001.6,241.7 1002.2,235.2"/>
<path stroke="#f00" stroke-dasharray="26.05 9.29 6.77 9.19" stroke-dashoffset="38.73" d="M1002.2,235.2 1002.9,226.7 1003.3,222.7"/>
<path stroke="#f00" stroke-dasharray="25.93 9.25 6.74 9.15" stroke-dashoffset="0.00" d="M1003.3,222.7 1004.3,216.3 1007.8,196.6 1008.8,189.6 1009.3,184.7"/>
<path stroke="#f00" stroke-dasharray="24.82 8.85 6.45 8.76" stroke-dashoffset="36.90" d="M1009.3,184.7 1010.1,176 1010.9,169.6 1011.9,164.3 1013,159.8 1013.6,158.2 1014.1,156.8 1014.8,155.9 1015.2,155.6 1015.8,155.7 1016.3,156.1 1017.3,158.1 1018.1,160.1 1019.1,163.4 1019.9,167 1020.4,170.1 1020.8,174.6 1021.2,183.9 1021.5,188.8 1022.3,195.3 1024.5,211.7 1025.6,221.6"/>
<path stroke="#f00" stroke-dasharray="27.98 9.98 7.27 9.87" stroke-dashoffset="41.59" d="M1025.6,221.6 1026.8,235.1"/>
<path stroke="#f00" stroke-dasharray="24.89 8.88 6.46 8.78" stroke-dashoffset="0.00" d="M1026.8,235.1 1028.7,255.5 1030,271.9"/>
<path stroke="#f00" stroke-dasharray="28.98 10.34 7.53 10.22" stroke-dashoffset="43.08" d="M1030,271.9 1030.7,277.4 1031.9,285.8"/>
<path stroke="#f00" stroke-dasharray="21.71 7.74 5.64 7.66" stroke-dashoffset="0.00" d="M1031.9,285.8 1034.3,300.9 1034.9,303.5 1035.6,306 1036.1,307.4 1037,309 1037.7,309.8 1038.2,310 1038.9,309.7 1039.6,308.9 1040.5,307.2 1041.4,304.8 1044.6,294.4"/>
<path stroke="#f00" stroke-dasharray="24.93 8.89 6.47 8.79" stroke-dashoffset="0.00" d="M1044.6,294.4 1048.5,280.9 1050.6,274.2 1051.6,271.5 1053.5,267 1057,259.6"/>
<path stroke="#f00" stroke-dasharray="26.76 9.54 6.95 9.44" stroke-dashoffset="39.78" d="M1057,259.6 1059.1,255.6 1060.9,252.9 1061.9,251.8 1063,250.8 1064.2,250.2 1065,249.9"/>
<path stroke="#f00" stroke-dasharray="25.11 8.95 6.52 8.86" stroke-dashoffset="0.00" d="M1065,249.9 1066.3,249.8 1067.7,250 1068.6,250.3 1069.8,251 1070.5,251.6 1071.5,252.7 1072.3,254 1073,255.4 1074.6,259.9 1075.8,264.8 1076.8,270.1 1078.5,281.5"/>
<path stroke="#f00" stroke-dasharray="31.07 11.08 8.07 10.96" stroke-dashoffset="46.18" d="M1078.5,281.5 1081.5,296.2"/>
<path stroke="#f00" stroke-dasharray="23.54 8.39 6.11 8.30" stroke-dashoffset="0.00" d="M1081.5,296.2 1082.1,300.6 1082.5,306.1 1083.2,324.6 1083.7,331.1"/>
<path stroke="#f00" stroke-dasharray="29.44 10.50 7.64 10.38" stroke-dashoffset="43.76" d="M1083.7,331.1 1084.5,337.6 1085.9,345.1"/>
<path stroke="#f00" stroke-dasharray="25.23 9.00 6.55 8.90" stroke-dashoffset="0.00" d="M1085.9,345.1 1087.8,355.2 1089.8,369.4 1091,375.9 1091.8,379.4 1092.5,381.5 1093.1,382.4 1093.4,382.6 1093.6,382.5 1094.1,381.9 1094.3,381.3 1094.8,379.6 1096,373.6 1097.5,363.4 1101,334.7"/>
<path stroke="#f00" stroke-dasharray="27.61 9.84 7.17 9.74" stroke-dashoffset="41.04" d="M1101,334.7 1102.6,321.5"/>
<path stroke="#f00" stroke-dasharray="25.63 9.14 6.66 9.04" stroke-dashoffset="0.00" d="M1102.6,321.5 1103.6,312 1106.4,283.6"/>
<path stroke="#f00" stroke-dasharray="23.69 8.45 6.15 8.36" stroke-dashoffset="35.22" d="M1106.4,283.6 1107.8,272.3"/>
<path stroke="#f00" stroke-dasharray="21.01 7.49 5.46 7.41" stroke-dashoffset="0.00" d="M1107.8,272.3 1108.8,266 1110,260.1 1111.6,254.5 1112.5,251.8 1113.2,250.4 1114,249.1 1114.9,248 1115.9,247.2 1116.6,246.8 1117.4,246.7 1118.1,246.8 1119.1,247.4 1119.7,248"/>
<path stroke="#f00" stroke-dasharray="26.67 9.51 6.93 9.41" stroke-dashoffset="39.65" d="M1119.7,248 1121.1,250.1 1122.4,253 1123.5,255.9 1124.6,259.8"/>
<path stroke="#f00" stroke-dasharray="26.03 9.28 6.76 9.18" stroke-dashoffset="0.00" d="M1124.6,259.8 1126.5,267.1 1128.6,273.8 1131,279.8 1133.1,284.4 1135.1,288 1136,289.3 1137,290.4 1138.1,291.4 1139.3,292.3 1140.2,292.7 1141.6,293.2"/>
<path stroke="#f00" stroke-dasharray="24.51 8.74 6.36 8.64" stroke-dashoffset="36.43" d="M1141.6,293.2 1143,293.3 1143.9,293.2 1145.2,292.8 1146.5,292 1147.7,291.1 1148.7,290 1149.9,288.3 1150.6,287"/>
<path stroke="#f00" stroke-dasharray="24.64 8.79 6.40 8.69" stroke-dashoffset="0.00" d="M1150.6,287 1151.4,285.1 1152.3,282.7 1152.9,280.2 1153.6,277.3 1156,263 1157.7,251.2"/>
<path stroke="#f00" stroke-dasharray="27.91 9.95 7.25 9.84" stroke-dashoffset="41.48" d="M1157.7,251.2 1159.3,237.8"/>
<path stroke="#f00" stroke-dasharray="24.48 8.73 6.36 8.63" stroke-dashoffset="0.00" d="M1159.3,237.8 1162,214.7 1164.1,201.7"/>
<path stroke="#f00" stroke-dasharray="25.62 9.13 6.65 9.04" stroke-dashoffset="38.08" d="M1164.1,201.7 1168.9,176 1169.8,171.9 1170.4,170.2 1170.7,169.6 1171.1,169.3 1171.4,169.3 1171.8,169.6 1172.7,170.8 1173.5,172.7 1174.2,174.8 1174.9,177.5 1175.5,180.6 1175.9,184.1 1176.3,190.6 1176.8,196.5 1179.8,218.8 1180.6,225.8 1181.5,235.2"/>
<path stroke="#f00" stroke-dasharray="26.96 9.62 7.00 9.51" stroke-dashoffset="40.08" d="M1181.5,235.2 1182.8,248.2"/>
<path stroke="#f00" stroke-dasharray="25.86 9.22 6.72 9.12" stroke-dashoffset="0.00" d="M1182.8,248.2 1185.8,274.9 1186.9,281.3 1188.2,286.2"/>
<path stroke="#f00" stroke-dasharray="24.46 8.72 6.35 8.63" stroke-dashoffset="36.36" d="M1188.2,286.2 1189.8,294 1190.4,295.8 1191,297 1191.6,297.7 1192.2,298.2 1192.5,298.4 1193.2,298.6 1194.2,298.4 1195.3,297.7 1196.3,296.7 1197.2,295.5 1198.2,293.7 1199.1,291.8 1203.8,280.6 1208,268.8"/>
<path stroke="#f00" stroke-dasharray="27.18 9.69 7.06 9.59" stroke-dashoffset="40.41" d="M1208,268.8 1209.2,265.5 1210.6,262.3 1212.2,259.1 1213.5,256.9"/>
<path stroke="#f00" stroke-dasharray="26.28 9.37 6.82 9.27" stroke-dashoffset="0.00" d="M1213.5,256.9 1215,254.7 1216.3,253.1 1217.8,251.8 1219.4,250.8 1220.8,250.4 1221.7,250.3 1222.6,250.4 1223.8,250.8 1225.4,251.9 1226.4,253 1227.6,254.7 1228.4,256.5 1229.1,258.4 1230,262.5 1232.2,274.5"/>
<path stroke="#f00" stroke-dasharray="29.81 10.63 7.74 10.51" stroke-dashoffset="44.31" d="M1232.2,274.5 1234.7,288.6"/>
<path stroke="#f00" stroke-dasharray="24.91 8.88 6.47 8.79" stroke-dashoffset="0.00" d="M1234.7,288.6 1236.2,299.6 1238.3,316.4 1239.6,325.4"/>
<path stroke="#f00" stroke-dasharray="25.95 9.26 6.74 9.15" stroke-dashoffset="38.58" d="M1239.6,325.4 1240.6,331.3 1241.9,337.7"/>
<path stroke="#f00" stroke-dasharray="24.64 8.79 6.40 8.69" stroke-dashoffset="0.00" d="M1241.9,337.7 1244.1,348.4 1245.8,357.7 1246.9,362.4 1248.1,366.1 1248.6,367.5 1249.2,368.6 1249.5,369.1 1249.9,369.2 1250.2,369.1 1250.5,368.7 1251.1,367.2 1251.8,364.6 1253,358.1 1254.3,350.1 1256.7,334.2 1258.1,323.7 1259.2,314.7 1260,306.2"/>
<path stroke="#f00" stroke-dasharray="26.45 9.43 6.87 9.33" stroke-dashoffset="0.00" d="M1260,306.2 1262.1,285.3 1263.4,273.9 1264.3,267.1"/>
<path stroke="#f00" stroke-dasharray="28.50 10.16 7.40 10.05" stroke-dashoffset="42.36" d="M1264.3,267.1 1265.6,259.6 1266.9,253.7"/>
<path stroke="#f00" stroke-dasharray="26.00 9.27 6.75 9.17" stroke-dashoffset="0.00" d="M1266.9,253.7 1267.6,251.6 1268.2,250.3 1268.8,249.5 1269.3,248.9 1270.4,248.2 1271.5,247.9 1272.6,248.1 1273.7,248.8 1274.6,249.9 1276,252.1 1277.3,255 1278,257.5 1279.6,263.9 1280.4,266.8 1282,271 1283.7,275.1"/>
<path stroke="#f00" stroke-dasharray="27.08 9.66 7.03 9.55" stroke-dashoffset="40.25" d="M1283.7,275.1 1285.9,279.7 1287.3,282.3 1288.6,284.5 1290.1,286.5"/>
<path stroke="#f00" stroke-dasharray="25.64 9.14 6.66 9.04" stroke-dashoffset="0.00" d="M1290.1,286.5 1291.7,288.5 1293.6,290.2 1295.2,291.4 1297,292.3 1298.4,292.8 1300.3,292.9 1301.3,292.8 1302.2,292.5 1303.9,291.6 1305,290.7 1306,289.6 1307,287.9 1307.8,286 1308.8,283 1309.8,279.5 1310.8,275.1 1311.5,271.7"/>
<path stroke="#f00" stroke-dasharray="28.93 10.32 7.51 10.20" stroke-dashoffset="43.00" d="M1311.5,271.7 1312.7,264.4 1313.5,257.9"/>
<path stroke="#f00" stroke-dasharray="25.59 9.12 6.65 9.03" stroke-dashoffset="0.00" d="M1313.5,257.9 1316.9,231.1 1318,220.2"/>
<path stroke="#f00" stroke-dasharray="27.19 9.69 7.06 9.59" stroke-dashoffset="40.41" d="M1318,220.2 1318.6,211.6 1319.1,207.1"/>
<path stroke="#f00" stroke-dasharray="23.13 8.25 6.01 8.16" stroke-dashoffset="0.00" d="M1319.1,207.1 1319.9,201.6 1321.1,196.1 1322.6,191.7 1323.8,188.8 1324.5,187.5 1325.3,186.3 1325.8,185.8 1326.5,185.4 1327.2,185.3 1327.9,185.5 1328.6,185.8 1329.2,186.2 1330,187.2 1330.8,188.9 1331.4,190.9 1333.2,202.6 1336.7,219.4 1337.8,227.6 1338.8,238.6"/>
<path stroke="#f00" stroke-dasharray="28.49 10.16 7.40 10.05" stroke-dashoffset="42.35" d="M1338.8,238.6 1339.9,252.3"/>
<path stroke="#f00" stroke-dasharray="25.36 9.04 6.58 8.94" stroke-dashoffset="0.00" d="M1339.9,252.3 1341.4,265.2 1343,274.7 1344.3,280.9 1345.4,285.3 1346.3,287.9 1347,289.2"/>
<path stroke="#f00" stroke-dasharray="22.42 8.00 5.82 7.91" stroke-dashoffset="33.33" d="M1347,289.2 1347.8,290.1 1348.5,290.6 1349.2,290.8 1349.9,290.8 1351.1,290.4 1351.8,290 1352.5,289.5 1353.4,288.5 1354.3,286.9 1355.1,285 1357.2,278 1358,275.5 1359.1,273.2 1360.4,270.5 1363.9,264.5 1365.9,261.6 1366.8,260.4 1368.2,259 1370.6,257.1"/>
<path stroke="#f00" stroke-dasharray="21.71 7.74 5.64 7.66" stroke-dashoffset="32.27" d="M1370.6,257.1 1373.2,255.6 1374.7,255 1376.1,254.6 1378.6,254.3 1380.4,254.6"/>
<path stroke="#f00" stroke-dasharray="25.99 9.27 6.75 9.17" stroke-dashoffset="0.00" d="M1380.4,254.6 1381.3,254.9 1382.5,255.6 1383.3,256.2 1384.3,257.3 1385.2,258.6 1386,259.9 1386.6,261.3 1387.3,263.2 1387.9,265.1 1388.5,267.6 1390.3,279.1 1392.2,289.9"/>
<path stroke="#f00" stroke-dasharray="28.96 10.33 7.52 10.21" stroke-dashoffset="43.04" d="M1392.2,289.9 1394.6,303.6"/>
<path stroke="#f00" stroke-dasharray="25.88 9.23 6.72 9.13" stroke-dashoffset="0.00" d="M1394.6,303.6 1396.3,314.6 1398.8,332.4 1400.3,341.7"/>
<path stroke="#f00" stroke-dasharray="24.25 8.65 6.30 8.55" stroke-dashoffset="36.05" d="M1400.3,341.7 1401.3,347.4 1402.1,351.1 1403,354.1 1404,356.6 1404.8,357.6 1405.3,357.7 1405.7,357.5 1406.5,356.3 1407.3,353.9 1408.3,350.2 1409,346.6 1412.1,324.3 1413.3,313.9 1415.4,292.4"/>
<path stroke="#f00" stroke-dasharray="27.80 9.91 7.22 9.80" stroke-dashoffset="27.80" d="M1415.4,292.4 1417.1,279"/>
<path stroke="#f00" stroke-dasharray="26.61 9.49 6.91 9.39" stroke-dashoffset="39.56" d="M1417.1,279 1418.1,272.2 1419.2,266.4"/>
<path stroke="#f00" stroke-dasharray="27.54 9.82 7.15 9.72" stroke-dashoffset="0.00" d="M1419.2,266.4 1420.1,262.4 1421.2,258.8 1422.2,256.2 1423.1,254.4 1424,253.2 1424.7,252.6 1425.4,252.1 1426.2,251.8 1427,251.6 1428.2,251.7 1429.3,252.3 1430.4,253.2 1431.5,254.9 1432.8,257.2 1433.7,259.1 1434.8,261.9 1437.8,271"/>
<path stroke="#f00" stroke-dasharray="25.91 9.24 6.73 9.14" stroke-dashoffset="38.51" d="M1437.8,271 1438.8,273.9 1440.2,277.1 1441.5,279.8 1443,282.4"/>
<path stroke="#f00" stroke-dasharray="26.48 9.44 6.88 9.34" stroke-dashoffset="0.00" d="M1443,282.4 1444.8,284.9 1446.4,286.8 1447.5,287.9 1449.4,289.5 1450.7,290.3 1452.1,291 1454,291.6 1455.4,291.7 1456.4,291.6 1458.2,291.1 1459.5,290.4 1460.3,289.8 1461.7,288.4 1463,286.3 1464.3,283.4 1465.3,280.5 1466.3,277.1 1467.2,273.2 1468.5,266.9 1469.5,261"/>
<path stroke="#f00" stroke-dasharray="25.25 9.00 6.56 8.90" stroke-dashoffset="0.00" d="M1469.5,261 1473.6,234.8 1475,223.8"/>
<path stroke="#f00" stroke-dasharray="28.97 10.33 7.52 10.22" stroke-dashoffset="43.07" d="M1475,223.8 1475.9,216.4 1477,210"/>
<path stroke="#f00" stroke-dasharray="21.60 7.70 5.61 7.62" stroke-dashoffset="0.00" d="M1477,210 1477.6,207.6 1478.5,204.2 1481,196.8 1482.2,194.1 1482.8,193.2 1483.2,193 1483.6,193.1 1484.3,193.6 1485.3,195.6 1486.5,199.5 1487.9,205.5"/>
<path stroke="#f00" stroke-dasharray="31.51 11.23 8.18 11.11" stroke-dashoffset="46.83" d="M1487.9,205.5 1488.9,212 1489.6,220.6"/>
<path stroke="#f00" stroke-dasharray="24.28 8.66 6.30 8.56" stroke-dashoffset="0.00" d="M1489.6,220.6 1490.3,227.4 1491.3,235.4 1494.3,256.4"/>
<path stroke="#f00" stroke-dasharray="30.79 10.98 8.00 10.86" stroke-dashoffset="45.77" d="M1494.3,256.4 1496.3,271.1"/>
<path stroke="#f00" stroke-dasharray="24.05 8.58 6.25 8.48" stroke-dashoffset="0.00" d="M1496.3,271.1 1496.9,275 1497.5,278.5 1498.3,281.5 1499.4,284.6 1500.5,287.2 1501.5,289 1502.5,290.2 1503.1,290.5 1503.7,290.6 1504.2,290.5 1504.8,290.1 1505.4,289.5 1506.3,288.4 1507.5,286.5 1511.9,278.4 1514,275.1 1517.8,269.4"/>
<path stroke="#f00" stroke-dasharray="27.67 9.87 7.19 9.76" stroke-dashoffset="0.00" d="M1517.8,269.4 1520.1,266.1 1522.6,262.9 1524.9,260.3 1527.2,258.3 1529.3,256.9 1531.6,255.7 1534,254.9 1536.4,254.5 1538.1,254.7 1539.2,255.2 1540.1,255.9 1541.1,257.4 1541.8,259.1 1542.4,261.2 1542.9,264.1 1543.4,267.6"/>
<path stroke="#f00" stroke-dasharray="25.80 9.20 6.70 9.10" stroke-dashoffset="38.35" d="M1543.4,267.6 1543.9,272.3 1544.9,278.5 1548.2,295.1 1549.4,302 1550.3,308 1552.5,324.9 1553.5,330.8 1554.5,335.7 1555.3,339.1 1556.3,342.1 1557.2,344.4 1557.9,345.8 1558.7,346.9 1560,348.2 1561.1,348.9 1562.7,349.5"/>
<path stroke="#00f" stroke-dasharray="32.08 18.85" stroke-dashoffset="0.00" d="M941.9,272.6 941.8,448.6 942.9,448.5 945.2,352.5 946.3,320.1"/>
<path stroke="#00f" stroke-dasharray="29.58 17.38" stroke-dashoffset="0.00" d="M946.3,320.1 946.4,311.6 946.3,300.5 946.4,297 946.8,293 947.5,289.6 948.6,286.8 949.4,285.5 950.3,284.4 951.4,283.4 952.5,282.4 956.7,279.7 957.8,278.8 958.5,278.1"/>
<path stroke="#00f" stroke-dasharray="31.94 18.76" stroke-dashoffset="0.00" d="M958.5,278.1 959.2,276.9 960,275.2 960.6,273.3 961,271.3 962.2,260.9 964.8,243.2 966.4,228.3"/>
<path stroke="#00f" stroke-dasharray="32.13 18.88" stroke-dashoffset="0.00" d="M966.4,228.3 967.6,215.3 968.4,204.3 969,194.4 969.7,177.4"/>
<path stroke="#00f" stroke-dasharray="31.97 18.78" stroke-dashoffset="0.00" d="M969.7,177.4 970.4,164.1 970.9,156.5 972.9,135.5 973.5,126.8"/>
<path stroke="#00f" stroke-dasharray="29.83 17.53" stroke-dashoffset="0.00" d="M973.5,126.8 974.1,119.2 974.6,114.8 975.1,112.7 975.5,111.4 976,110.4 976.5,109.8 976.9,109.6 977.4,109.5 978.2,109.9 979.1,110.6 980.2,112 981.1,113.6 981.8,115.4 982.3,117.2 982.7,119.1"/>
<path stroke="#00f" stroke-dasharray="35.09 20.62" stroke-dashoffset="35.09" d="M982.7,119.1 983,122.1 983.1,124.7 982.9,135 983,139.7"/>
<path stroke="#00f" stroke-dasharray="30.49 17.91" stroke-dashoffset="0.00" d="M983,139.7 983.2,142.2 983.6,144.6 985.6,153.4 987.2,162 987.8,164 988.4,165.8 989.3,167.4 990.1,168.4 991.2,169.3 992,169.4 992.4,169.2 992.8,168.9 993.4,167.6 993.9,165.8 994.4,163.6 995.5,153.8"/>
<path stroke="#00f" stroke-dasharray="26.22 15.40" stroke-dashoffset="0.00" d="M995.5,153.8 996.3,148.2 998.1,138.9 1000.2,126.1 1001.1,121.1 1001.9,118.5 1002.9,116.3 1003.9,114.8 1004.4,114.3 1005,113.9"/>
<path stroke="#00f" stroke-dasharray="30.80 18.09" stroke-dashoffset="0.00" d="M1005,113.9 1005.6,113.8 1006.5,114.2 1007.3,115.1 1008,116.3 1008.9,118 1009.6,119.9 1010.2,122.2 1010.8,124.7 1011.2,128.1 1011.5,132.7 1011.3,147.3 1011.5,151.9 1012,156.4 1012.9,160.3"/>
<path stroke="#00f" stroke-dasharray="27.41 16.10" stroke-dashoffset="0.00" d="M1012.9,160.3 1020.7,186.7 1025.4,202"/>
<path stroke="#00f" stroke-dasharray="33.08 19.43" stroke-dashoffset="0.00" d="M1025.4,202 1026.7,207.3 1027.6,211.8 1028.9,219.2 1030.1,226.6 1031.5,237.5 1033,253.9"/>
<path stroke="#00f" stroke-dasharray="31.81 18.69" stroke-dashoffset="0.00" d="M1033,253.9 1035.3,278.8 1037.9,304.2"/>
<path stroke="#00f" stroke-dasharray="21.43 12.59" stroke-dashoffset="0.00" d="M1037.9,304.2 1038.6,310.4 1039.5,314.4 1040.2,316.4 1041,318.2 1041.8,319.4 1042.7,320.2 1043.3,320.4 1044,320.4 1045.1,319.9 1045.8,319.3 1046.4,318.6 1047.3,317.2 1049.6,312.9 1050.1,312.1 1051.1,311.3 1051.7,311 1052.4,311 1052.7,311.1 1053.6,311.8 1054,312.5"/>
<path stroke="#00f" stroke-dasharray="31.44 18.47" stroke-dashoffset="0.00" d="M1054,312.5 1055,314.8 1055.7,318.4 1056.5,325.2 1058.9,344 1060.6,361.9"/>
<path stroke="#00f" stroke-dasharray="32.10 18.86" stroke-dashoffset="0.00" d="M1060.6,361.9 1062.9,387.8 1064.9,412.7"/>
<path stroke="#00f" stroke-dasharray="31.68 18.61" stroke-dashoffset="0.00" d="M1064.9,412.7 1065.8,422.9 1067.1,431.2 1067.8,434 1068.3,435.4 1068.7,436.1 1069.1,436.6 1069.8,436.9 1070.4,436.8 1071,436.4 1072,435.1 1072.7,433.3 1073.4,430.7 1073.8,428.4 1074.2,425.2 1074.9,413.3"/>
<path stroke="#00f" stroke-dasharray="30.88 18.14" stroke-dashoffset="0.00" d="M1074.9,413.3 1075.3,409.9 1075.9,406.9 1078,397.1 1080,386.4 1081.2,381.2 1082,378.5 1082.6,377.1 1083.3,375.9 1084.1,374.9 1085,374.5 1085.6,374.5 1086.2,374.9 1087.1,375.8 1089.4,379.5 1089.9,380 1090.5,380.2"/>
<path stroke="#00f" stroke-dasharray="31.70 18.62" stroke-dashoffset="0.00" d="M1090.5,380.2 1091.1,380.1 1092,379.6 1092.5,378.9 1093.3,377.6 1094.7,374.5 1096.2,369.8 1097.7,363 1102.2,339.5 1103.4,332.5"/>
<path stroke="#00f" stroke-dasharray="33.20 19.50" stroke-dashoffset="0.00" d="M1103.4,332.5 1104.5,325.5 1105.1,322.1 1106,318.7 1107,315.4 1108.3,312.6 1110,309.6 1111.2,308 1114.2,304.7 1115.4,303.1 1116.5,301.1 1117.1,299.3 1117.8,296.4 1118.1,293.4 1118.3,283.4"/>
<path stroke="#00f" stroke-dasharray="31.56 18.54" stroke-dashoffset="0.00" d="M1118.3,283.4 1118.5,280.3 1118.9,276.2 1119.8,271.3 1122,260.1 1122.9,253.7 1123.1,250.2 1123.2,246.2 1123.2,233.7"/>
<path stroke="#00f" stroke-dasharray="32.48 19.08" stroke-dashoffset="0.00" d="M1123.2,233.7 1123.5,228.3 1124,222.4 1126.3,205 1127.2,196 1127.7,188.3 1127.7,182.4"/>
<path stroke="#00f" stroke-dasharray="31.32 18.40" stroke-dashoffset="0.00" d="M1127.7,182.4 1127.5,173.2 1127.7,170 1128.2,167.1 1129.1,164.3 1129.8,163 1130.6,161.8 1131.2,161.1 1132.2,160.1 1133.3,159.6 1134,159.4 1134.7,159.6 1135.4,159.9 1136,160.3 1136.9,161.2 1138,162.9 1138.7,164.9 1139.1,166.7 1139.5,169.2 1140.3,181.4"/>
<path stroke="#00f" stroke-dasharray="30.99 18.21" stroke-dashoffset="0.00" d="M1140.3,181.4 1140.7,184.8 1141.2,188.2 1141.9,191.3 1142.6,193.9 1143.2,195.4 1143.9,196.3 1144.3,196.6 1144.7,196.6 1145,196.4 1145.4,196 1146.4,194.3 1147.5,191.3 1148.6,187.8 1150.2,181.5 1151.3,176.4 1151.9,173.1 1152.4,168.4 1152.7,165.1"/>
<path stroke="#00f" stroke-dasharray="28.88 16.97" stroke-dashoffset="0.00" d="M1152.7,165.1 1153.2,154.2 1153.6,150.7 1154,147.6 1154.9,144.1 1155.7,141.6 1157,138.7 1158.1,136.9 1159.1,135.7 1159.8,135.3 1160.5,135.5 1161.2,136.5 1161.9,138.1 1162.6,140.8 1164,148.5"/>
<path stroke="#00f" stroke-dasharray="31.94 18.76" stroke-dashoffset="0.00" d="M1164,148.5 1165.4,155.6 1168.2,166.1 1174.1,186.4 1175.9,192.2 1177.7,197.3"/>
<path stroke="#00f" stroke-dasharray="32.46 19.07" stroke-dashoffset="0.00" d="M1177.7,197.3 1181.2,206.1 1182.8,210.3 1184.3,215.1 1185.5,220 1186.2,224.4 1186.7,228.9 1187.3,242.4 1187.7,247.4"/>
<path stroke="#00f" stroke-dasharray="32.63 19.17" stroke-dashoffset="0.00" d="M1187.7,247.4 1188.7,254.4 1191.2,267.2 1191.9,272.6 1192.2,278 1192,287.8 1192.1,291.9 1192.3,295 1192.9,298.8"/>
<path stroke="#00f" stroke-dasharray="30.55 17.95" stroke-dashoffset="0.00" d="M1192.9,298.8 1193.8,301.9 1194.8,304.2 1195.3,305 1196.1,306 1197,306.5 1197.5,306.6 1198.1,306.4 1198.8,305.6 1202.3,299.5 1203.4,298.2 1204.5,297.3 1205.8,296.7 1207,296.7 1207.9,296.9 1208.7,297.3 1210.1,298.4 1210.9,299.5 1211.8,301.1 1212.5,303.4 1212.8,305.3 1213,309.6 1212.7,318.6"/>
<path stroke="#00f" stroke-dasharray="32.21 18.92" stroke-dashoffset="0.00" d="M1212.7,318.6 1212.9,323.4 1213.4,327.1 1214.1,331.5 1216.5,343 1217.2,348.3 1217.6,354.2 1217.6,363.8 1217.8,369.3"/>
<path stroke="#00f" stroke-dasharray="26.14 15.35" stroke-dashoffset="0.00" d="M1217.8,369.3 1218.2,375.9 1219,382.8 1220.3,390.6 1221.6,397 1223.1,403.3 1223.9,405.8 1224.5,407.1 1225.3,408.2 1226.1,408.9 1226.7,409"/>
<path stroke="#00f" stroke-dasharray="32.38 19.02" stroke-dashoffset="0.00" d="M1226.7,409 1227,409 1227.5,408.8 1228.5,407.6 1229.3,406 1229.9,404.1 1231.9,392.4 1235.1,379 1238.1,363.8 1238.8,361.3 1239.3,359.9"/>
<path stroke="#00f" stroke-dasharray="33.88 19.91" stroke-dashoffset="0.00" d="M1239.3,359.9 1240,358.7 1240.7,357.8 1241.5,357.5 1242,357.6 1242.8,358.3 1243.5,359.5 1244.2,360.9 1245.9,365.5 1246.7,367.1 1247.4,367.7 1248,367.6 1248.7,367.1 1249.4,366.1 1250.2,364.4 1250.7,362.9 1253.2,353.2 1253.8,348.9 1254.5,338.9 1254.9,336.1 1255.2,334.4 1255.6,333.4 1256.2,332.3 1256.7,331.8"/>
<path stroke="#00f" stroke-dasharray="32.63 19.17" stroke-dashoffset="0.00" d="M1256.7,331.8 1257.3,331.3 1257.9,330.6 1258.6,328.9 1259.1,327.3 1261.2,319 1262.1,316.4 1262.7,314.9 1264.5,311.6 1269.3,304.7 1270.5,302.6 1271.2,300.8 1272.1,297.6 1272.7,294.6 1273.8,283.9"/>
<path stroke="#00f" stroke-dasharray="31.82 18.70" stroke-dashoffset="0.00" d="M1273.8,283.9 1274.8,276.9 1277.8,261.7 1278.8,255.3 1279.5,247.8 1280.1,233.8"/>
<path stroke="#00f" stroke-dasharray="32.77 19.25" stroke-dashoffset="0.00" d="M1280.1,233.8 1280.7,220.9 1281.6,208 1283.1,194.8 1284.9,182.1"/>
<path stroke="#00f" stroke-dasharray="30.36 17.84" stroke-dashoffset="0.00" d="M1284.9,182.1 1285.5,179.3 1286.2,177.4 1286.8,176.1 1287.5,175 1288.5,174.2 1289.5,173.8 1290.5,173.8 1291.4,174.4 1292.2,175.5 1292.8,176.8 1293.6,178.9 1294.2,181 1295.3,186 1296.9,195.7 1297.5,198.3 1298.5,200.7 1299.2,201.9 1299.7,202.6 1300.6,203.3 1301.3,203.4 1301.9,203.3 1302.8,202.6 1303.6,201.6 1304.3,200.3"/>
<path stroke="#00f" stroke-dasharray="30.40 17.86" stroke-dashoffset="0.00" d="M1304.3,200.3 1304.8,198.9 1305.3,196.9 1307,186.9 1309.9,173.8 1310.4,170.2 1311.2,161.7 1311.8,158.2 1312.5,155.3 1313.3,153"/>
<path stroke="#00f" stroke-dasharray="27.43 16.12" stroke-dashoffset="0.00" d="M1313.3,153 1314.2,151.4 1315.2,150 1316,149.5 1316.6,149.5 1317.4,150 1318.2,151 1319.2,152.8 1320.1,154.9 1321.5,159 1322.2,162 1322.9,166 1324.5,176.8 1325.5,182.2 1326.4,186.1"/>
<path stroke="#00f" stroke-dasharray="35.73 20.99" stroke-dashoffset="0.00" d="M1326.4,186.1 1328.2,192.3 1330.5,198.5 1332.6,203.1 1337.4,212.6 1338.6,215.3 1339.7,218.6 1340.3,221.4 1340.7,224.8 1340.8,228.3 1340.8,235.9 1341,240"/>
<path stroke="#00f" stroke-dasharray="33.49 19.67" stroke-dashoffset="0.00" d="M1341,240 1341.5,243.5 1342.2,247.5 1343,251.4 1345.7,262.1 1346.9,267.9 1347.5,272.3 1348.4,284.6 1348.8,288.2 1349.7,292.3"/>
<path stroke="#00f" stroke-dasharray="28.89 16.97" stroke-dashoffset="0.00" d="M1349.7,292.3 1350.8,295.9 1351.9,298.3 1352.4,299.1 1353.2,300.1 1353.8,300.5 1354.4,300.7 1355,300.6 1355.9,300 1356.8,298.9 1359.3,295.3 1360.3,294.2 1361.5,293.4 1362.6,293 1363.8,293.2 1364.8,293.7 1366,294.8 1367,296.1 1367.5,297.3 1368,299.1 1368.2,300.6 1368.6,305.1 1368.5,314.6"/>
<path stroke="#00f" stroke-dasharray="33.54 19.70" stroke-dashoffset="0.00" d="M1368.5,314.6 1368.8,320.2 1369.5,325.9 1370.5,331.7 1373.1,343.9 1374,349.7 1374.8,357.2 1375.6,367.3"/>
<path stroke="#00f" stroke-dasharray="32.71 19.22" stroke-dashoffset="0.00" d="M1375.6,367.3 1376.5,378.3 1377.5,385.2 1378.4,389.7 1379.4,393.9 1380.5,396.8 1381.2,397.9 1381.8,398.1 1382.3,397.7 1382.8,396.8 1383.5,394.9 1384.4,391.5 1385.3,387.5 1386.9,379.1"/>
<path stroke="#00f" stroke-dasharray="31.55 18.54" stroke-dashoffset="0.00" d="M1386.9,379.1 1388.5,370.5 1390.3,362.1 1391.7,356.9 1392.4,354.9 1393.1,353.6 1394.1,351.9 1395.1,350.9 1396.2,350.1 1397.5,349.6 1398.4,349.4 1399.3,349.4 1403,350.3 1403.8,350.4 1404.5,350.3 1405.1,350 1405.9,349.1 1406.7,347.4 1407.2,345.4 1408.2,340.8"/>
<path stroke="#00f" stroke-dasharray="25.58 15.03" stroke-dashoffset="0.00" d="M1408.2,340.8 1409.6,333.9 1410.9,329.5 1412.6,324.8 1415.7,317.4 1417.2,314.2 1418.9,311.2 1420,309.6 1423.2,305.6 1424.2,304"/>
<path stroke="#00f" stroke-dasharray="31.82 18.69" stroke-dashoffset="0.00" d="M1424.2,304 1425.3,301.8 1426,299.5 1426.4,297.5 1427.8,289 1430.8,275.3 1432,267.9 1433.5,254.5"/>
<path stroke="#00f" stroke-dasharray="33.05 19.42" stroke-dashoffset="0.00" d="M1433.5,254.5 1435,242.6 1437.4,228.8 1438.4,222.4 1439,216.9 1440.1,202.5"/>
<path stroke="#00f" stroke-dasharray="30.45 17.89" stroke-dashoffset="0.00" d="M1440.1,202.5 1441.3,194.6 1441.9,192 1442.5,190.1 1443.5,188.5 1444,187.8 1444.6,187.4 1445.5,187.1 1446.2,187.2 1446.8,187.6 1447.4,188.2 1448.2,189.3 1449,190.6 1449.8,192.5 1450.9,196.1 1455.3,212.3 1456.1,214.3 1456.5,214.8 1456.9,214.9 1457.1,214.9"/>
<path stroke="#00f" stroke-dasharray="31.78 18.67" stroke-dashoffset="0.00" d="M1457.1,214.9 1457.6,214.6 1458.2,213.8 1459,211.7 1461.9,197.6 1462.7,194.3 1465.6,184.3 1468.3,171.3 1469,168.4 1469.7,166.3"/>
<path stroke="#00f" stroke-dasharray="31.71 18.63" stroke-dashoffset="0.00" d="M1469.7,166.3 1470.3,165.1 1471,164.3 1471.5,164.1 1472.3,164.3 1473.1,165 1474,166.1 1474.7,167.4 1475.5,169.2 1476.5,172.2 1478.2,179.4 1480.5,188.6 1483.4,201.3 1484.5,205.2 1485.7,208.4"/>
<path stroke="#00f" stroke-dasharray="32.40 19.03" stroke-dashoffset="0.00" d="M1485.7,208.4 1487.5,212 1491.7,219.4 1493.5,223 1495.5,227.6 1497.1,232.4 1498.3,237.2 1498.7,239.6 1499.2,243.4 1499.6,249.8 1499.6,257"/>
<path stroke="#00f" stroke-dasharray="25.44 14.95" stroke-dashoffset="0.00" d="M1499.6,257 1499.5,266.9 1499.6,269.7 1499.8,273.6 1500.2,276.2 1500.6,278.3 1501.2,280.2 1502,282.5 1502.9,284.1 1504,285.7 1505.5,287.3 1507,288.4 1508.3,289 1509.7,289.3 1511.1,289.3 1513.5,289"/>
<path stroke="#00f" stroke-dasharray="32.67 19.19" stroke-dashoffset="0.00" d="M1513.5,289 1515.5,288.9 1517,289.1 1518.3,289.6 1519.5,290.3 1520.4,291.3 1521.2,292.6 1521.8,293.9 1522.6,296.3 1523.4,299.8 1523.9,303.3 1525.2,321 1526.1,328.4 1527,334.8"/>
<path stroke="#00f" stroke-dasharray="34.98 20.55" stroke-dashoffset="0.00" d="M1527,334.8 1529.9,350.1 1531,357 1531.9,364.3 1532.9,375.2 1533.6,379.2 1534,381.1 1534.6,382.8 1535.3,384.2 1536,385 1536.3,385 1536.6,384.3 1537.2,381.3"/>
<path stroke="#00f" stroke-dasharray="29.24 17.18" stroke-dashoffset="0.00" d="M1537.2,381.3 1537.9,378.3 1538.9,374.8 1544.2,357.3 1546.2,351.5 1548.1,347.2 1548.6,346.4 1549.4,345.3 1550.1,344.8 1550.8,344.5 1551.7,344.3 1552.5,344.4 1555.4,345.2 1556.2,345.1 1557.2,344.7"/>
<path stroke="#00f" stroke-dasharray="32.00 18.80" stroke-dashoffset="0.00" d="M1557.2,344.7 1557.8,344.1 1558.2,343.4 1558.6,342.6 1559,341.1 1562,325.3"/>
</g>
<g fill="#000">
<text><tspan x="287.62" y="474.20" font-size="46.60" class="sym" textLength="29.43" lengthAdjust="spacingAndGlyphs">Ω</tspan> <tspan x="331.00" y="477.94" font-size="42.50">=</tspan> <tspan x="367.43" y="474.40" font-size="42.50">0.5</tspan></text>
<text><tspan x="1119.80" y="455.40" font-size="42.50">A</tspan><tspan x="1147.98" y="474.20" font-size="34.00">0</tspan> <tspan x="1181.00" y="459.14" font-size="42.50">=</tspan> <tspan x="1217.62" y="455.60" font-size="42.50">0.4</tspan></text>
</g>
<rect x="592.7" y="385.5" width="275.8" height="231.3" fill="#fff" stroke="#262626" stroke-width="2"/>
<g fill="none" stroke-width="4.2">
<path d="M605 428H700.5" stroke="#000"/>
<path d="M605 501.1H700.5" stroke="#f00" stroke-dasharray="25.8 9.2 6.7 9.1"/>
<path d="M605 574.5H700.5" stroke="#00f" stroke-dasharray="32 18.8"/>
</g>
<g fill="#000">
<text><tspan x="710.40" y="433.20" font-size="38.70">A</tspan><tspan x="738.07" y="452.60" font-size="31.00">0</tspan> <tspan x="767.53" y="436.66" font-size="39.30">=</tspan> <tspan x="800.43" y="433.40" font-size="38.90">0</tspan></text>
<text><tspan x="710.40" y="509.20" font-size="38.70">A</tspan><tspan x="738.07" y="528.60" font-size="31.00">0</tspan> <tspan x="767.53" y="512.66" font-size="39.30">=</tspan> <tspan x="800.43" y="509.40" font-size="38.90">0.2</tspan></text>
<text><tspan x="710.40" y="582.30" font-size="38.70">A</tspan><tspan x="738.07" y="601.70" font-size="31.00">0</tspan> <tspan x="767.53" y="585.76" font-size="39.30">=</tspan> <tspan x="800.43" y="582.50" font-size="38.90">0.4</tspan></text>
</g>
<rect x="1382.2" y="401.3" width="266.8" height="174.3" fill="#fff" stroke="#262626" stroke-width="2"/>
<g fill="none" stroke-width="4.2">
<path d="M1395 433.8H1490.5" stroke="#000"/>
<path d="M1395 488.2H1490.5" stroke="#f00" stroke-dasharray="25.8 9.2 6.7 9.1"/>
<path d="M1395 543H1490.5" stroke="#00f" stroke-dasharray="32 18.8"/>
</g>
<g fill="#000">
<text><tspan x="1499.38" y="448.80" font-size="42.70" class="sym" textLength="27.06" lengthAdjust="spacingAndGlyphs">Ω</tspan> <tspan x="1538.34" y="452.23" font-size="39.00">=</tspan> <tspan x="1571.84" y="449.00" font-size="38.60">0.5</tspan></text>
<text><tspan x="1499.38" y="505.90" font-size="42.70" class="sym" textLength="27.06" lengthAdjust="spacingAndGlyphs">Ω</tspan> <tspan x="1538.34" y="509.33" font-size="39.00">=</tspan> <tspan x="1570.90" y="506.10" font-size="38.60">1.0</tspan></text>
<text><tspan x="1499.38" y="559.70" font-size="42.70" class="sym" textLength="27.06" lengthAdjust="spacingAndGlyphs">Ω</tspan> <tspan x="1548.94" y="563.13" font-size="39.00">=</tspan> <tspan x="1580.47" y="559.90" font-size="38.60">2.5</tspan></text>
</g>
<g fill="none" stroke="#fff" stroke-width="1.3">
<rect x="267.7" y="417.6" width="202.8" height="84"/>
<rect x="1099" y="400.3" width="222" height="100"/>
</g>
</svg></body></html>
